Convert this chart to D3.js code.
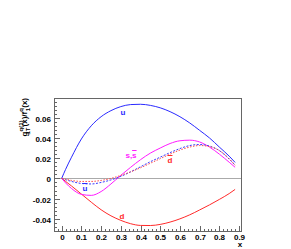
<!DOCTYPE html>
<html><head><meta charset="utf-8">
<script src="https://cdn.jsdelivr.net/npm/d3@7"></script>
<style>body{margin:0;background:#fff}svg{display:block}text{font-family:"Liberation Sans",Arial,sans-serif}</style>
</head><body>
<script>
const xs = [0,0.02,0.05,0.1,0.15,0.2,0.25,0.3,0.35,0.4,0.45,0.5,0.55,0.6,0.65,0.7,0.75,0.8,0.85,0.88];
const uVals    = [0,0.009,0.021,0.039,0.052,0.061,0.067,0.071,0.073,0.0733,0.0722,0.0698,0.066,0.061,0.0548,0.0475,0.040,0.031,0.022,0.0158];
const dVals    = [0,-0.003,-0.0075,-0.0155,-0.0235,-0.031,-0.037,-0.0415,-0.0448,-0.0465,-0.0466,-0.0455,-0.0432,-0.0400,-0.0360,-0.0312,-0.0262,-0.0208,-0.0150,-0.0109];
const sVals    = [0,-0.0045,-0.010,-0.0158,-0.0168,-0.013,-0.0055,0.003,0.011,0.0185,0.025,0.030,0.0345,0.0372,0.0378,0.036,0.031,0.024,0.016,0.011];
const ubarVals = [0,-0.0013,-0.003,-0.005,-0.0055,-0.004,-0.0015,0.002,0.0065,0.0115,0.0165,0.021,0.0255,0.0295,0.0325,0.0335,0.032,0.0275,0.019,0.013];
const dbarVals = [0,-0.0008,-0.002,-0.003,-0.003,-0.002,0,0.003,0.0065,0.0105,0.015,0.0195,0.024,0.028,0.031,0.0325,0.0315,0.0275,0.0195,0.013];
const xTicks = [0,0.1,0.2,0.3,0.4,0.5,0.6,0.7,0.8,0.9];
const yTicks = [-0.04,-0.02,0,0.02,0.04,0.06];

const W=291,H=249;
const svg=d3.select("body").append("svg").attr("width",W).attr("height",H);
const L=54,R=242,T=98,B=232;
const x=d3.scaleLinear().domain([-0.039,0.915]).range([L,R]);
const y=d3.scaleLinear().domain([-0.053,0.0795]).range([B,T]);
const frameCol="#666";

svg.append("line").attr("x1",L).attr("x2",R).attr("y1",Math.round(y(0))+0.5).attr("y2",Math.round(y(0))+0.5).attr("stroke","#aaa").attr("stroke-width",1);

svg.append("rect").attr("x",L+0.5).attr("y",T+0.5).attr("width",R-L-1).attr("height",B-T-1)
  .attr("fill","none").attr("stroke",frameCol).attr("stroke-width",1);

const yMinor=d3.range(-0.052,0.0795,0.004);
yMinor.forEach(v=>{const yy=Math.round(y(v))+0.5;
  svg.append("line").attr("x1",L).attr("x2",L+3).attr("y1",yy).attr("y2",yy).attr("stroke",frameCol);});
yTicks.forEach(v=>{const yy=Math.round(y(v))+0.5;
  svg.append("line").attr("x1",L).attr("x2",L+6).attr("y1",yy).attr("y2",yy).attr("stroke",frameCol);
  svg.append("text").attr("x",L-3).attr("y",yy+3).attr("text-anchor","end").attr("font-size",8).attr("font-weight","bold")
    .text(v===0?"0":d3.format(".2f")(v).replace("−","-"));});
const xMinor=d3.range(-0.02,0.915,0.02);
xMinor.forEach(v=>{const xx=Math.round(x(v))+0.5;
  svg.append("line").attr("x1",xx).attr("x2",xx).attr("y1",B).attr("y2",B-3).attr("stroke",frameCol);});
xTicks.forEach(v=>{const xx=Math.round(x(v))+0.5;
  svg.append("line").attr("x1",xx).attr("x2",xx).attr("y1",B).attr("y2",B-6).attr("stroke",frameCol);
  svg.append("text").attr("x",xx).attr("y",B+7.5).attr("text-anchor","middle").attr("font-size",8).attr("font-weight","bold")
    .text(v===0?"0":d3.format(".1f")(v));});
svg.append("text").attr("x",240).attr("y",247).attr("text-anchor","middle").attr("font-size",8).attr("font-weight","bold").text("x");

const yt=svg.append("text").attr("transform","translate(27,98) rotate(-90)").attr("text-anchor","end").attr("font-size",8).attr("font-weight","bold");
yt.append("tspan").text("g");
yt.append("tspan").attr("font-size",6).attr("dy",-4).text("q(1)");
yt.append("tspan").attr("font-size",6).attr("dx",-14).attr("dy",7).text("1T");
yt.append("tspan").attr("dy",-3).attr("dx",1).text("(x)/f");
yt.append("tspan").attr("font-size",6).attr("dy",-4).text("q");
yt.append("tspan").attr("font-size",6).attr("dx",-3).attr("dy",7).text("1");
yt.append("tspan").attr("dy",-3).text("(x)");

const line=d3.line().x((d,i)=>x(xs[i])).y(d=>y(d)).curve(d3.curveMonotoneX);
const series=[
  {v:uVals,c:"#2a2aff",dash:null},
  {v:dVals,c:"#ff2a2a",dash:null},
  {v:sVals,c:"#ff1aff",dash:null},
  {v:ubarVals,c:"#3a3aff",dash:"2,1.5"},
  {v:dbarVals,c:"#ff4a4a",dash:"1.5,1.5"}
];
series.forEach(s=>{svg.append("path").attr("d",line(s.v)).attr("fill","none").attr("stroke",s.c).attr("stroke-width",1)
  .attr("stroke-dasharray",s.dash);});

// labels; parts = [text, overbar?]
function lab(tx,ty,parts,col){
  const t=svg.append("text").attr("x",tx).attr("y",ty).attr("text-anchor","middle").attr("font-size",8).attr("font-weight","bold").attr("fill",col);
  const spans=parts.map(p=>({p,el:t.append("tspan").text(p[0])}));
  spans.forEach(s=>{ if(s.p[1]){ const n=s.el.node(); const n0=n.getStartPositionOfChar(0).x; const w=n.getComputedTextLength();
      svg.append("line").attr("x1",n0).attr("x2",n0+w).attr("y1",ty-7.5).attr("y2",ty-7.5).attr("stroke",col).attr("stroke-width",1);} });
}
lab(123,115,[["u",false]],"#2a2aff");
lab(122,219,[["d",false]],"#ff2a2a");
lab(131,158,[["s,",false],["s",true]],"#ff1aff");
lab(85,191,[["u",true]],"#2a2aff");
lab(170,163,[["d",true]],"#ff2a2a");
</script>
</body></html>
